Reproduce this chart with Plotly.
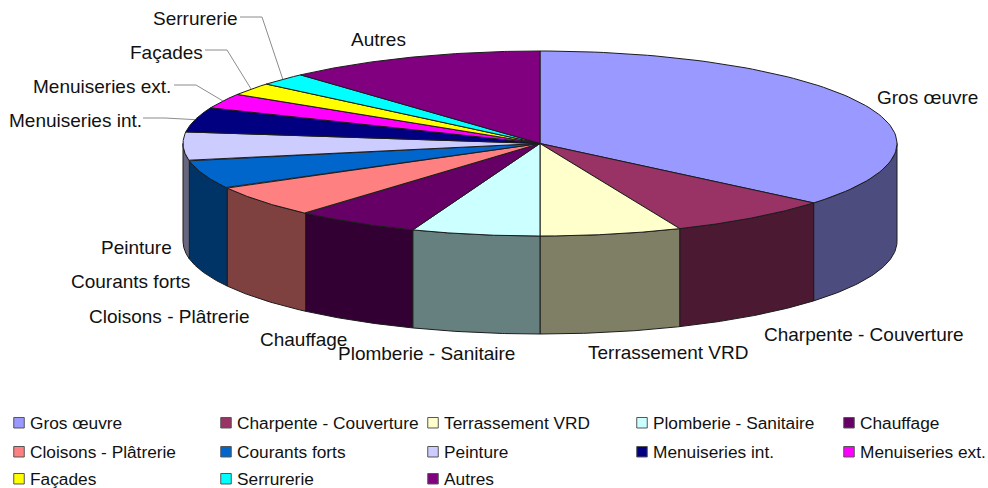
import numpy as np
import plotly.graph_objects as go

# ---- data (share of each trade, %) ----
categories = ["Gros œuvre", "Charpente - Couverture", "Terrassement VRD", "Plomberie - Sanitaire",
              "Chauffage", "Cloisons - Plâtrerie", "Courants forts", "Peinture",
              "Menuiseries int.", "Menuiseries ext.", "Façades", "Serrurerie", "Autres"]
values = [36.1, 7.5, 6.4, 5.8, 5.6, 5.6, 5.0, 5.0, 4.3, 2.6, 2.2, 2.2, 11.7]
colors = ["#9999FF", "#993366", "#FFFFCC", "#CCFFFF", "#660066", "#FF8080", "#0066CC",
          "#CCCCFF", "#000080", "#FF00FF", "#FFFF00", "#00FFFF", "#800080"]

# ---- style / layout (pixel-based axes) ----
W, H = 988, 488
CX, CY, RX, RY, DEPTH = 540, 143.5, 357, 92.5, 98
EDGE = "#1c1c1c"
FONT = "Liberation Sans, Arial, sans-serif"
LABEL_SIZE = 19
LEGEND_SIZE = 17.3
label_pos = {  # left x, centre y
    "Gros œuvre": (875, 97), "Charpente - Couverture": (762, 334), "Terrassement VRD": (586, 352),
    "Plomberie - Sanitaire": (336, 353), "Chauffage": (258, 339), "Cloisons - Plâtrerie": (87, 316),
    "Courants forts": (69, 281), "Peinture": (99, 247), "Menuiseries int.": (7, 120),
    "Menuiseries ext.": (31, 86), "Façades": (128, 52), "Serrurerie": (151, 18), "Autres": (349, 39),
}
leader_start = {  # line start, elbow x
    "Menuiseries int.": (143, 118, 165), "Menuiseries ext.": (174, 85, 196),
    "Façades": (205, 50, 227), "Serrurerie": (240, 17, 262),
}
legend_cols = [30, 237, 444, 653, 860]   # text left x
legend_rows = [423, 452, 479]            # centre y


def rim(theta_deg, dy=0.0):
    t = np.radians(theta_deg)
    return CX + RX * np.sin(t), CY - RY * np.cos(t) + dy


def darker(hex_color):
    r, g, b = (int(hex_color[i:i + 2], 16) // 2 for i in (1, 3, 5))
    return f"#{r:02X}{g:02X}{b:02X}"


fig = go.Figure()
cum = np.concatenate([[0], np.cumsum(values)]) / np.sum(values) * 360

# side walls (only the front half is visible)
for i, c in enumerate(colors):
    a, b = max(cum[i], 90), min(cum[i + 1], 270)
    if b <= a:
        continue
    th = np.linspace(a, b, 60)
    x1, y1 = rim(th)
    x2, y2 = rim(th[::-1], DEPTH)
    fig.add_trace(go.Scatter(x=np.r_[x1, x2, x1[0]], y=np.r_[y1, y2, y1[0]], mode="lines", fill="toself",
                             fillcolor=darker(c), line=dict(color=EDGE, width=1),
                             hoverinfo="skip", showlegend=False))

# top surface
for i, c in enumerate(colors):
    th = np.linspace(cum[i], cum[i + 1], 90)
    x1, y1 = rim(th)
    fig.add_trace(go.Scatter(x=np.r_[CX, x1, CX], y=np.r_[CY, y1, CY], mode="lines", fill="toself",
                             fillcolor=c, line=dict(color=EDGE, width=1),
                             name=categories[i], text=categories[i], hoverinfo="text", showlegend=False))

# leader lines, ending on the rim at the middle of the slice
for name, (sx, sy, ex) in leader_start.items():
    i = categories.index(name)
    px, py = rim((cum[i] + cum[i + 1]) / 2)
    fig.add_trace(go.Scatter(x=[sx, ex, px], y=[sy, sy, py], mode="lines",
                             line=dict(color="#8c8c8c", width=1), hoverinfo="skip", showlegend=False))

# legend: one native legend per entry, on a 5-column grid
layout_legends = {}
for i, c in enumerate(colors):
    key = "legend" if i == 0 else f"legend{i + 1}"
    fig.add_trace(go.Scatter(x=[None], y=[None], mode="markers", name=categories[i],
                             legend=key, showlegend=True,
                             marker=dict(symbol="square", size=10.5, color=c, line=dict(color="#555555", width=1))))
    col, row = i % 5, i // 5
    layout_legends[key] = dict(x=(legend_cols[col] - 40) / W, xanchor="left",
                               y=1 - legend_rows[row] / H, yanchor="middle",
                               bgcolor="rgba(0,0,0,0)", borderwidth=0,
                               font=dict(family=FONT, size=LEGEND_SIZE, color="#111111"))

annotations = [dict(x=x, y=y, xref="x", yref="y", text=name, showarrow=False, xanchor="left", yanchor="middle",
                    font=dict(family=FONT, size=LABEL_SIZE, color="#111111"))
               for name, (x, y) in label_pos.items()]

fig.update_layout(width=W, height=H, margin=dict(l=0, r=0, t=0, b=0, autoexpand=False),
                  paper_bgcolor="white", plot_bgcolor="white",
                  xaxis=dict(range=[0, W], visible=False, fixedrange=True),
                  yaxis=dict(range=[H, 0], visible=False, fixedrange=True),
                  annotations=annotations, **layout_legends)

post = """
document.body.style.margin = '0';
var gd = document.getElementById('{plot_id}');
function shiftSwatches() {
  gd.querySelectorAll('.legendpoints .scatterpts').forEach(function (p) {
    p.setAttribute('transform', 'translate(29,0)');
  });
}
shiftSwatches();
gd.on('plotly_afterplot', shiftSwatches);
setTimeout(shiftSwatches, 50);
"""
fig.write_html("out.html", post_script=post, config=dict(displayModeBar=False))
